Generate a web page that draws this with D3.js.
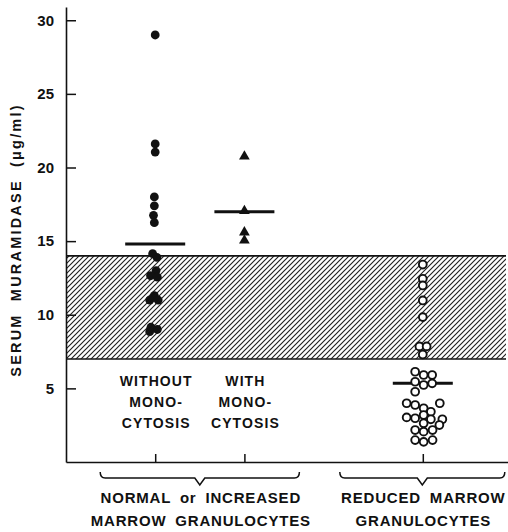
<!DOCTYPE html>
<html>
<head>
<meta charset="utf-8">
<script src="https://cdn.jsdelivr.net/npm/d3@7"></script>
<style>
  body { margin: 0; background: #fff; }
  text { font-family: "Liberation Sans", Arial, sans-serif; font-weight: bold; fill: #111; }
</style>
</head>
<body>
<div id="chart-area"></div>
<script>
// columns (a blank spacer keeps the gap before the third column)
var columns = ["without", "with", "spacer", "reduced"];
var yTicks = [5, 10, 15, 20, 25, 30];
var normalRange = [7, 14];

// without monocytosis (filled dots), slot = sideways offset in marker widths
var withoutVals = [29.0, 21.6, 21.05, 18.0, 17.4, 16.75, 16.25, 14.15, 13.9, 13.0, 12.65, 12.55,
                   11.3, 11.0, 11.0, 9.15, 9.0, 8.85];
var withoutSlot = [0, 0, 0, -0.1, -0.1, -0.2, -0.1, -0.3, 0.2, 0.1, -0.55, 0.25,
                   -0.1, -0.65, 0.35, -0.5, 0.25, -0.65];
var withoutMedian = 14.8;

// with monocytosis (triangles)
var withVals = [20.75, 17.05, 15.6, 15.05];
var withSlot = [0, 0, 0, 0];
var withMedian = 17.0;

// reduced marrow granulocytes (open circles)
var reducedVals = [13.41, 12.44, 11.99, 10.97, 9.84, 7.85, 7.85, 7.3,
                   6.13, 5.91, 5.91, 5.45, 5.23, 5.34, 4.77,
                   3.99, 3.87, 3.65, 3.41, 3.99, 3.03, 2.97, 3.19, 2.90, 2.90,
                   2.63, 2.51, 2.17, 2.06, 2.17, 1.49, 1.37, 1.49];
var reducedSlot = [0, 0, 0, 0, 0, -0.4, 0.45, 0,
                   -0.9, 0.1, 1.1, -0.9, 0.1, 1.1, -0.9,
                   -1.9, -0.9, 0.1, 0.95, 2.0, -1.9, -0.9, 0.1, 0.95, 2.3,
                   0.1, 1.95, -0.9, 0.1, 1.15, -0.9, 0.1, 1.15];
var reducedMedian = 5.35;

var subLabels = [["WITHOUT", "MONO-", "CYTOSIS"], ["WITH", "MONO-", "CYTOSIS"]];
var groupLabels = [["NORMAL or INCREASED", "MARROW GRANULOCYTES"], ["REDUCED MARROW", "GRANULOCYTES"]];
var yTitle = "SERUM MURAMIDASE (\u03bcg/ml)";

var width = 508, height = 532;

var svg = d3.select("#chart-area")
    .append("svg")
    .attr("width", width)
    .attr("height", height);

// scales
var x = d3.scalePoint()
    .domain(columns)
    .range([66, 512])
    .padding(1);

var y = d3.scaleLinear()
    .domain([0, 30.9])
    .range([462, 7]);

var slot = d3.scaleLinear().domain([-1, 1]).range([-8.5, 8.5]);

// hatch pattern
svg.append("defs").append("pattern")
    .attr("id", "hatch")
    .attr("patternUnits", "userSpaceOnUse")
    .attr("width", 5)
    .attr("height", 5)
  .append("path")
    .attr("d", "M-1,1 l2,-2 M0,5 l5,-5 M4,6 l2,-2")
    .attr("stroke", "#222")
    .attr("stroke-width", 1.15);

// normal band
svg.append("rect")
    .attr("x", 66)
    .attr("y", y(normalRange[1]))
    .attr("width", 506 - 66)
    .attr("height", y(normalRange[0]) - y(normalRange[1]))
    .attr("fill", "url(#hatch)");

svg.selectAll(".band-edge")
    .data(normalRange)
    .enter()
    .append("line")
    .attr("class", "band-edge")
    .attr("x1", 66).attr("x2", 506)
    .attr("y1", d => y(d)).attr("y2", d => y(d))
    .attr("stroke", "#111")
    .attr("stroke-width", 1.6);

// y axis, ticks pointing inward
var yAxis = svg.append("g")
    .attr("transform", "translate(66,0)")
    .call(d3.axisLeft(y).tickValues(yTicks).tickSizeInner(-10).tickSizeOuter(0).tickPadding(12));
yAxis.select(".domain").attr("stroke", "#111").attr("stroke-width", 1.6);
yAxis.selectAll(".tick line").attr("stroke", "#111").attr("stroke-width", 1.5);
yAxis.selectAll(".tick text")
    .attr("font-size", 15)
    .attr("font-family", "Liberation Sans, Arial, sans-serif")
    .attr("font-weight", "bold")
    .attr("fill", "#111");

// x axis
var xAxis = svg.append("g")
    .attr("transform", "translate(0," + y(0) + ")")
    .call(d3.axisBottom(x).tickValues(["without", "with", "reduced"]).tickSizeInner(-8).tickSizeOuter(0).tickFormat(""));
xAxis.select(".domain").attr("stroke", "#111").attr("stroke-width", 1.6);
xAxis.selectAll(".tick line").attr("stroke", "#111").attr("stroke-width", 1.5);

// y title
svg.append("text")
    .attr("transform", "translate(21," + 240 + ") rotate(-90)")
    .attr("text-anchor", "middle")
    .attr("font-size", 14.5)
    .style("letter-spacing", "2.2px")
    .style("word-spacing", "6px")
    .text(yTitle);

// medians
var medians = [["without", withoutMedian], ["with", withMedian], ["reduced", reducedMedian]];
svg.selectAll(".median")
    .data(medians)
    .enter()
    .append("line")
    .attr("class", "median")
    .attr("x1", d => x(d[0]) - 30)
    .attr("x2", d => x(d[0]) + 30)
    .attr("y1", d => y(d[1]))
    .attr("y2", d => y(d[1]))
    .attr("stroke", "#111")
    .attr("stroke-width", 3);

// filled dots
svg.selectAll(".dot")
    .data(withoutVals)
    .enter()
    .append("circle")
    .attr("class", "dot")
    .attr("cx", (d, i) => x("without") + slot(withoutSlot[i]))
    .attr("cy", d => y(d))
    .attr("r", 4.4)
    .attr("fill", "#111");

// triangles
svg.selectAll(".tri")
    .data(withVals)
    .enter()
    .append("path")
    .attr("class", "tri")
    .attr("d", d3.symbol().type(d3.symbolTriangle).size(50))
    .attr("transform", (d, i) => "translate(" + (x("with") + slot(withSlot[i])) + "," + y(d) + ")")
    .attr("fill", "#111");

// open circles
svg.selectAll(".ring")
    .data(reducedVals)
    .enter()
    .append("circle")
    .attr("class", "ring")
    .attr("cx", (d, i) => x("reduced") + slot(reducedSlot[i]))
    .attr("cy", d => y(d))
    .attr("r", 3.9)
    .attr("fill", "#fff")
    .attr("stroke", "#111")
    .attr("stroke-width", 1.9);

// sub-column labels
subLabels.forEach((lines, k) => {
  svg.append("g").selectAll("text")
      .data(lines)
      .enter()
      .append("text")
      .attr("x", x(columns[k]) + 1)
      .attr("y", (d, i) => 386 + i * 20.8)
      .attr("text-anchor", "middle")
      .attr("font-size", 14)
      .style("letter-spacing", "1.1px")
      .text(d => d);
});

// brackets
var brackets = [[x("without") - 55, x("with") + 55], [x("reduced") - 83, x("reduced") + 82]];
svg.selectAll(".bracket")
    .data(brackets)
    .enter()
    .append("path")
    .attr("class", "bracket")
    .attr("d", d => {
      var c = (d[0] + d[1]) / 2, b = 478;
      return "M" + d[0] + "," + (b - 6) + " Q" + d[0] + "," + b + " " + (d[0] + 5) + "," + b +
             " L" + (c - 5) + "," + b + " L" + c + "," + (b + 7) + " L" + (c + 5) + "," + b +
             " L" + (d[1] - 5) + "," + b + " Q" + d[1] + "," + b + " " + d[1] + "," + (b - 6);
    })
    .attr("fill", "none")
    .attr("stroke", "#111")
    .attr("stroke-width", 1.5);

// group labels
groupLabels.forEach((lines, k) => {
  var cx = (brackets[k][0] + brackets[k][1]) / 2 + 1;
  svg.append("g").selectAll("text")
      .data(lines)
      .enter()
      .append("text")
      .attr("x", cx)
      .attr("y", (d, i) => 503 + i * 23)
      .attr("text-anchor", "middle")
      .attr("font-size", 15)
      .style("letter-spacing", "0.8px")
      .style("word-spacing", "4px")
      .text(d => d);
});
</script>
</body>
</html>
